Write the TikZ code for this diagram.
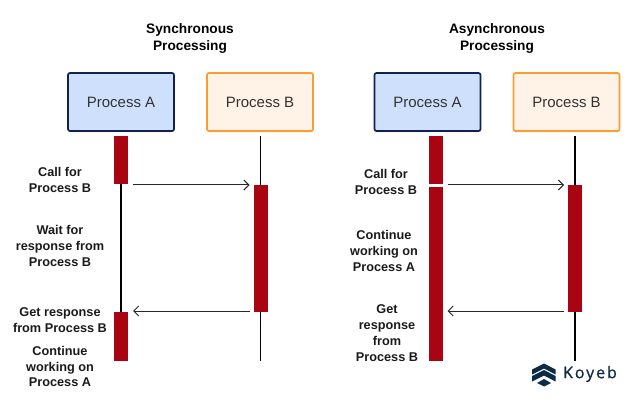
\documentclass[tikz,border=0pt]{standalone}
\usepackage{fontspec}
\setmainfont{Liberation Sans}
\newfontfamily\logofont[LetterSpace=12,FakeBold=0.7]{Open Sans}
\usetikzlibrary{shadows,arrows.meta}
\definecolor{boxblue}{HTML}{CFE0FC}
\definecolor{boxnavy}{HTML}{0F2250}
\definecolor{boxcream}{HTML}{FEF3E6}
\definecolor{boxorange}{HTML}{FB9D31}
\definecolor{barred}{HTML}{A80412}
\definecolor{labelink}{HTML}{1A1A1A}
\definecolor{koyebnavy}{HTML}{0D2A47}
\tikzset{
	procbox/.style={rectangle,rounded corners=2pt,line width=1.7pt,minimum width=106pt,minimum height=58pt,
		inner sep=0pt,text=black!80,font=\fontsize{15}{17}\selectfont,drop shadow={shadow xshift=0.5pt,shadow yshift=-1.5pt,opacity=.22}},
	procA/.style={procbox,draw=boxnavy,fill=boxblue},
	procB/.style={procbox,draw=boxorange,fill=boxcream},
	bar/.style={rectangle,fill=barred,minimum width=14pt,inner sep=0pt,outer sep=0pt},
	note/.style={align=center,inner sep=0pt,text=labelink,font=\fontsize{12.7}{15.8}\selectfont\bfseries},
	headline/.style={align=center,inner sep=0pt,text=black,font=\fontsize{13.7}{16.5}\selectfont\bfseries},
	msg/.style={line width=1pt,draw=black!85,-{Straight Barb[length=5pt,width=10pt]}},
	lifeline/.style={line width=1.1pt,draw=black}
}
\begin{document}
\begin{tikzpicture}[x=1pt,y=-1pt]
	\useasboundingbox (0,0) rectangle (644,403);

	% synchronous side
	\node[headline] (t1) at (190,38.5) {Synchronous\\Processing};
	\node[procA] (a1) at (121,102) {\raisebox{-1pt}{Process A}};
	\node[procB] (b1) at (260,102) {\raisebox{-1pt}{Process B}};

	\node[bar,minimum height=48pt] (r1) at (121,160) {};
	\node[bar,minimum height=49pt] (r2) at (121,336.5) {};
	\node[bar,minimum height=127pt] (r3) at (260.5,248.5) {};

	\coordinate (c1) at (260.5,136);
	\coordinate (c2) at (260.5,361);
	\draw[lifeline] (r1.south) -- (r2.north);
	\draw[lifeline] (c1) -- (r3.north);
	\draw[lifeline] (r3.south) -- (c2);

	\draw[msg,shorten <=5pt,shorten >=4pt] (r1.east |- r3.north) -- (r3.north west);
	\draw[msg,shorten <=4pt,shorten >=5pt] ([yshift=1pt]r3.south west) -- ([yshift=1pt]r2.north east);

	\node[note] (l1) at (60,180) {Call for\\Process B};
	\node[note] (l2) at (60,246) {Wait for\\response from\\Process B};
	\node[note] (l3) at (60,320) {Get response\\from Process B};
	\node[note] (l4) at (60,366.5) {Continue\\working on\\Process A};

	% asynchronous side
	\node[headline] (t2) at (497,38.5) {Asynchronous\\Processing};
	\node[procA] (a2) at (427.5,102) {\raisebox{-1pt}{Process A}};
	\node[procB] (b2) at (566.5,102) {\raisebox{-1pt}{Process B}};

	\node[bar,minimum height=48pt] (r4) at (435.5,160) {};
	\node[bar,minimum height=174pt] (r5) at (435.5,274) {};
	\node[bar,minimum height=127pt] (r6) at (575,248.5) {};

	\coordinate (c3) at (575,136);
	\coordinate (c4) at (575,361);
	\draw[lifeline] (c3) -- (r6.north);
	\draw[lifeline] (r6.south) -- (c4);

	\draw[msg,shorten <=5pt,shorten >=4pt] (r4.east |- r6.north) -- (r6.north west);
	\draw[msg,shorten <=4pt,shorten >=5pt] ([yshift=1pt]r6.south west) -- ([yshift=1pt]r5.east |- r6.south);

	\node[note] (l5) at (386,182) {Call for\\Process B};
	\node[note] (l6) at (384,251) {Continue\\working on\\Process A};
	\node[note] (l7) at (387,333) {Get\\response\\from\\Process B};

	% logo
	\fill[koyebnavy] (532,369.5) -- (544,363.5) -- (555.5,369.5) -- (555.5,374.5) -- (544,368.5) -- (532,374.5) -- cycle;
	\fill[koyebnavy] (532,376) -- (544,370) -- (555.5,376) -- (555.5,381.5) -- (544,375.5) -- (532,381.5) -- cycle;
	\fill[koyebnavy] (537,383) -- (544,379) -- (551,383) -- (544,386.5) -- cycle;
	\node[inner sep=0pt,text=koyebnavy,font=\fontsize{16}{18}\logofont] (k1) at (590,374) {Koyeb};
\end{tikzpicture}
\end{document}
